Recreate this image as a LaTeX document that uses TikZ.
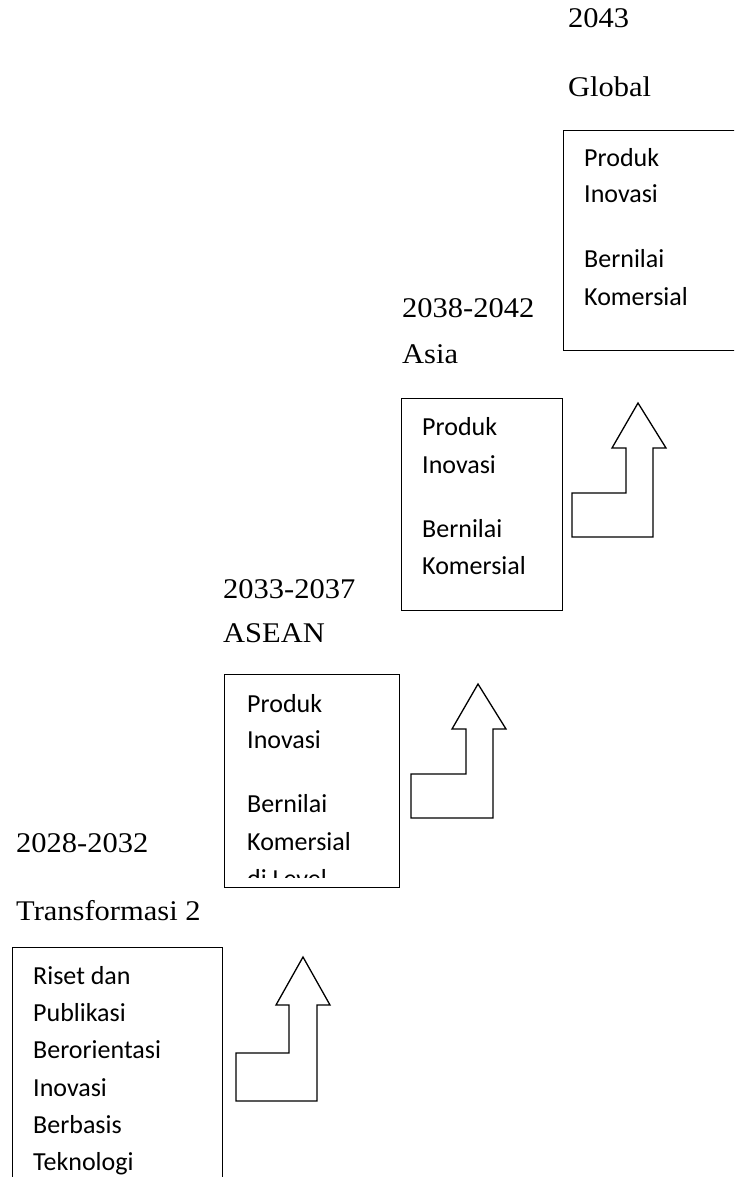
\documentclass[tikz,border=0pt]{standalone}
\usepackage{fontspec}
\setmainfont{Carlito}
\newfontfamily\labfont[FakeStretch=1.07]{Liberation Serif}
\tikzset{
  box/.style={draw, line width=1.3pt, anchor=north west, inner sep=0pt},
  body/.style={anchor=base west, inner sep=0pt, font=\fontsize{26}{30}\selectfont},
  lab/.style={anchor=base west, inner sep=0pt, font=\labfont\fontsize{28.5}{33}\selectfont},
  steparrow/.style={draw, line width=1.3pt, line join=miter}
}
\begin{document}
\begin{tikzpicture}[x=1pt,y=-1pt]
\useasboundingbox (0,0) rectangle (734,1177);
\clip (0,0) rectangle (734,1177);
% boxes
\node[box, minimum width=210pt, minimum height=260pt] (b1) at (12,947) {};
\node[box, minimum width=175pt, minimum height=213pt] (b2) at (224,674) {};
\node[box, minimum width=161pt, minimum height=212pt] (b3) at (401,398) {};
\node[box, minimum width=200pt, minimum height=220pt] (b4) at (563,130) {};
% labels
\node[lab] (l1a) at (16,852) {2028-2032};
\node[lab] (l1b) at (16,920) {Transformasi 2};
\node[lab] (l2a) at (223,598) {2033-2037};
\node[lab] (l2b) at (223,642) {ASEAN};
\node[lab] (l3a) at (402,317) {2038-2042};
\node[lab] (l3b) at (402,363) {Asia};
\node[lab] (l4a) at (568,28) {2043};
\node[lab] (l4b) at (568,97) {Global};
% box 1 text
\node[body] (t11) at (33,984) {Riset dan};
\node[body] (t12) at (33,1021) {Publikasi};
\node[body] (t13) at (33,1058) {Berorientasi};
\node[body] (t14) at (33,1096) {Inovasi};
\node[body] (t15) at (33,1133) {Berbasis};
\node[body] (t16) at (33,1170) {Teknologi};
% box 2 text
\node[body] (t21) at (247,712) {Produk};
\node[body] (t22) at (247,748) {Inovasi};
\node[body] (t23) at (247,812) {Bernilai};
\node[body] (t24) at (247,850) {Komersial};
\begin{scope}
\clip (224,850) rectangle (399,877);
\node[body] (t25) at (247,887) {di Level};
\end{scope}
% box 3 text
\node[body] (t31) at (422,435) {Produk};
\node[body] (t32) at (422,473) {Inovasi};
\node[body] (t33) at (422,537) {Bernilai};
\node[body] (t34) at (422,574) {Komersial};
% box 4 text
\node[body] (t41) at (584,167) {Produk};
\node[body] (t42) at (584,203) {Inovasi};
\node[body] (t43) at (584,267) {Bernilai};
\node[body] (t44) at (584,305) {Komersial};
% step arrows
\draw[steparrow] (236,1101) -- (317,1101) -- (317,1005) -- (330,1005) -- (303,957) -- (276,1005) -- (289,1005) -- (289,1053) -- (236,1053) -- cycle;
\draw[steparrow] (411,818) -- (493,818) -- (493,729) -- (506,729) -- (478,684) -- (452,729) -- (466,729) -- (466,774) -- (411,774) -- cycle;
\draw[steparrow] (572,537) -- (653,537) -- (653,448) -- (666,448) -- (638,403) -- (612,448) -- (626,448) -- (626,493) -- (572,493) -- cycle;
\end{tikzpicture}
\end{document}
